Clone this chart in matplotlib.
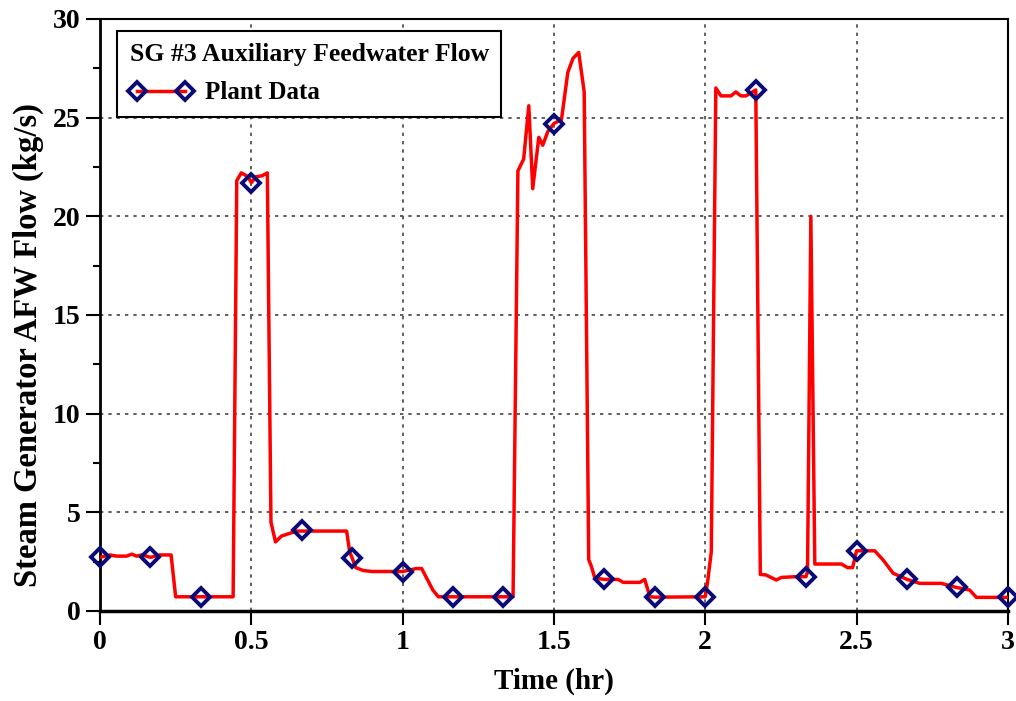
import matplotlib
matplotlib.use("Agg")
import matplotlib.pyplot as plt
from matplotlib.lines import Line2D
from matplotlib.ticker import MultipleLocator

# plant data trace (hr, kg/s)
t = [0, 0.033, 0.055, 0.088, 0.105, 0.121, 0.138, 0.167, 0.198, 0.235, 0.25,
     0.333, 0.44, 0.452, 0.467, 0.49, 0.5, 0.515, 0.535, 0.553, 0.565, 0.58,
     0.6, 0.62, 0.65, 0.667, 0.815, 0.825, 0.833, 0.845, 0.87, 0.9, 1.0,
     1.045, 1.063, 1.1, 1.118, 1.167, 1.333, 1.365, 1.381, 1.4, 1.417, 1.43,
     1.45, 1.463, 1.48, 1.5, 1.525, 1.546, 1.563, 1.582, 1.6, 1.615, 1.624,
     1.635, 1.667, 1.712, 1.729, 1.784, 1.8, 1.817, 1.833, 2.0, 2.008, 2.02,
     2.035, 2.052, 2.085, 2.101, 2.118, 2.134, 2.167, 2.182, 2.2, 2.235,
     2.252, 2.3, 2.333, 2.338, 2.349, 2.362, 2.45, 2.47, 2.487, 2.5, 2.547,
     2.56, 2.588, 2.621, 2.667, 2.709, 2.78, 2.828, 2.874, 2.896, 3.0]
flow = [2.72, 2.84, 2.78, 2.78, 2.88, 2.78, 2.84, 2.72, 2.84, 2.84, 0.72,
        0.72, 0.72, 21.8, 22.2, 22.0, 21.7, 22.0, 22.05, 22.2, 4.5, 3.5,
        3.8, 3.9, 4.05, 4.05, 4.05, 3.0, 2.7, 2.2, 2.05, 2.0, 2.0,
        2.15, 2.15, 1.06, 0.72, 0.72, 0.72, 0.72, 22.3, 22.9, 25.6, 21.4,
        24.0, 23.6, 24.3, 24.7, 24.9, 27.3, 28.0, 28.3, 26.3, 2.6, 2.25,
        1.67, 1.6, 1.6, 1.45, 1.45, 1.6, 0.73, 0.7, 0.72, 1.5, 3.0,
        26.5, 26.1, 26.1, 26.3, 26.1, 26.1, 26.4, 1.85, 1.83, 1.57,
        1.7, 1.74, 1.74, 2.0, 20.0, 2.38, 2.38, 2.2, 2.2, 3.05, 3.05,
        3.05, 2.58, 1.91, 1.6, 1.4, 1.4, 1.2, 1.06, 0.69, 0.69]

# diamond symbols every 10 minutes
mark_t = [0, 1/6, 2/6, 3/6, 4/6, 5/6, 1, 7/6, 8/6, 9/6, 10/6, 11/6, 2,
          13/6, 14/6, 15/6, 16/6, 17/6, 3]
mark_y = [2.72, 2.72, 0.72, 21.7, 4.1, 2.7, 2.0, 0.72, 0.72, 24.7, 1.6,
          0.7, 0.72, 26.4, 1.74, 3.05, 1.6, 1.2, 0.7]

plt.rcParams['font.family'] = ['Liberation Serif', 'DejaVu Serif']
plt.rcParams['font.weight'] = 'bold'

red = '#ff0000'
navy = '#0b0b78'

fig = plt.figure(figsize=(10.16, 7.01), dpi=100)
ax = fig.add_axes([0.0984, 0.1284, 0.8936, 0.8446])

ax.plot(t, flow, color=red, lw=2.5, zorder=3)
ax.plot(mark_t, mark_y, ls='none', marker='D', ms=9, mew=2.8,
        mec=navy, mfc='none', zorder=4, clip_on=False)

ax.set_xlim(0, 3)
ax.set_ylim(0, 30)
ax.yaxis.set_major_locator(MultipleLocator(5))
ax.yaxis.set_minor_locator(MultipleLocator(2.5))
ax.set_xticks([0, 0.5, 1, 1.5, 2, 2.5, 3])
ax.set_xticklabels(['0', '0.5', '1', '1.5', '2', '2.5', '3'])
ax.tick_params(which='major', direction='out', length=10, width=1.5,
               labelsize=20, pad=4)
ax.tick_params(which='minor', direction='out', length=5, width=1.5)
ax.grid(True, which='major', color='#444444', ls=(0, (2, 3)), lw=1.2)

for s in ax.spines.values():
    s.set_linewidth(1.5)
ax.spines['bottom'].set_linewidth(2.5)
ax.spines['left'].set_linewidth(2.0)

ax.set_xlabel('Time (hr)', fontsize=21, fontweight='bold', labelpad=9)
ax.set_ylabel('Steam Generator AFW Flow (kg/s)', fontsize=23.5,
              fontweight='bold')
ax.yaxis.set_label_coords(-0.062, 0.45)

proxy = Line2D([], [], color=red, lw=2.5, marker='D', ms=9, mew=2.8,
               mec=navy, mfc='none')
leg = ax.legend([proxy], ['Plant Data'], title='SG #3 Auxiliary Feedwater Flow',
                loc='upper left', bbox_to_anchor=(0.019, 0.98), numpoints=2,
                borderaxespad=0, handlelength=2.5, handletextpad=0.5,
                fancybox=False, framealpha=1, edgecolor='black',
                prop={'size': 18, 'weight': 'bold'},
                title_fontproperties={'size': 18.5, 'weight': 'bold'},
                alignment='left', borderpad=0.5, labelspacing=0.6)
leg.get_frame().set_linewidth(1.5)
leg.set_zorder(5)

fig.savefig('out.png', dpi=100)
